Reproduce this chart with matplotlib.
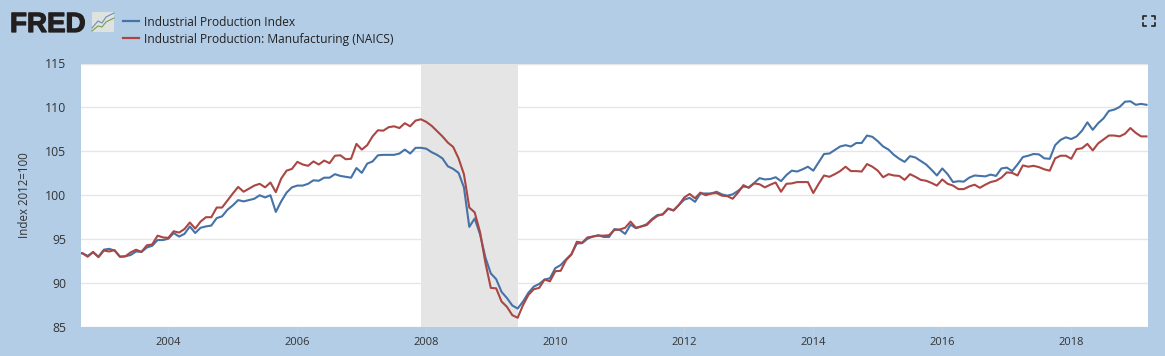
import numpy as np
from matplotlib import pyplot as plt
from matplotlib import patheffects
from matplotlib.lines import Line2D
from matplotlib.patches import FancyBboxPatch

plt.rcParams['font.family'] = ['Open Sans', 'DejaVu Sans']

# monthly, Aug 2002 to Mar 2019
start_year = 2002 + 7 / 12

indpro = [
    93.4, 93.4, 93.1, 93.5, 93.0, 93.8, 93.9, 93.7, 93.0, 93.05, 93.2, 93.6,
    93.55, 94.05, 94.25, 94.9, 94.9, 95.05, 95.7, 95.3, 95.6, 96.45, 95.7, 96.3,
    96.45, 96.55, 97.4, 97.6, 98.35, 98.85, 99.45, 99.3, 99.45, 99.6, 100.0, 99.75,
    100.0, 98.1, 99.3, 100.3, 100.9, 101.1, 101.1, 101.3, 101.7, 101.65, 102.0, 102.0,
    102.4, 102.2, 102.1, 102.0, 103.1, 102.55, 103.6, 103.85, 104.55, 104.6, 104.6, 104.6,
    104.75, 105.2, 104.75, 105.4, 105.4, 105.3, 104.9, 104.6, 104.2, 103.3, 103.0, 102.55,
    100.9, 96.4, 97.35, 95.55, 92.9, 91.1, 90.45, 89.0, 88.3, 87.45, 87.1, 87.9,
    88.9, 89.6, 89.9, 90.4, 90.55, 91.7, 92.05, 92.7, 93.3, 94.5, 94.55, 95.05,
    95.3, 95.45, 95.25, 95.25, 96.15, 96.05, 95.6, 96.65, 96.25, 96.45, 96.7, 97.3,
    97.75, 97.8, 98.45, 98.3, 98.9, 99.5, 99.7, 99.25, 100.2, 100.2, 100.2, 100.4,
    100.1, 99.95, 100.1, 100.5, 101.0, 100.9, 101.4, 101.95, 101.8, 101.85, 102.05, 101.6,
    102.3, 102.8, 102.7, 102.95, 103.25, 102.8, 103.75, 104.7, 104.75, 105.15, 105.55, 105.7,
    105.55, 105.95, 105.95, 106.8, 106.65, 106.15, 105.55, 105.2, 104.6, 104.15, 103.8, 104.45,
    104.3, 103.9, 103.5, 102.9, 102.25, 103.05, 102.4, 101.5, 101.6, 101.55, 102.0, 102.25,
    102.2, 102.15, 102.35, 102.2, 103.05, 103.15, 102.75, 103.5, 104.35, 104.5, 104.7, 104.65,
    104.2, 104.15, 105.7, 106.3, 106.6, 106.4, 106.7, 107.35, 108.3, 107.45, 108.2, 108.75,
    109.6, 109.75, 110.05, 110.65, 110.7, 110.3, 110.4, 110.3,
]

manufacturing = [
    93.4, 93.4, 93.0, 93.55, 92.95, 93.7, 93.6, 93.75, 93.0, 93.05, 93.5, 93.8,
    93.55, 94.3, 94.4, 95.4, 95.2, 95.15, 95.9, 95.75, 96.15, 96.9, 96.2, 97.0,
    97.5, 97.5, 98.6, 98.6, 99.4, 100.2, 100.95, 100.4, 100.75, 101.1, 101.3, 100.9,
    101.45, 100.35, 101.9, 102.8, 103.0, 103.8, 103.5, 103.35, 103.85, 103.5, 103.95, 103.65,
    104.5, 104.55, 104.1, 104.15, 105.85, 105.2, 105.7, 106.7, 107.4, 107.35, 107.75, 107.85,
    107.65, 108.2, 107.85, 108.5, 108.65, 108.35, 107.9, 107.3, 106.7, 106.0, 105.5, 104.2,
    102.4, 98.6, 98.05, 95.8, 92.3, 89.45, 89.4, 87.9, 87.3, 86.35, 86.05, 87.5,
    88.65, 89.3, 89.45, 90.4, 90.2, 91.35, 91.4, 92.6, 93.25, 94.7, 94.6, 95.2,
    95.3, 95.4, 95.4, 95.45, 96.05, 96.1, 96.3, 97.0, 96.3, 96.45, 96.6, 97.2,
    97.65, 97.85, 98.5, 98.25, 98.9, 99.75, 100.15, 99.65, 100.3, 100.0, 100.2, 100.25,
    99.95, 99.9, 99.6, 100.3, 101.15, 100.85, 101.35, 101.25, 100.9, 101.2, 101.45, 100.4,
    101.3, 101.35, 101.5, 101.5, 101.5, 100.25, 101.3, 102.25, 102.1, 102.4, 102.75, 103.25,
    102.75, 102.75, 102.7, 103.55, 103.25, 102.8, 102.05, 102.4, 102.25, 102.2, 101.75, 102.4,
    102.1, 101.75, 101.65, 101.4, 101.1, 101.8, 101.3, 101.1, 100.7, 100.7, 101.0, 101.2,
    100.85, 101.2, 101.5, 101.65, 102.0, 102.6, 102.55, 102.25, 103.4, 103.25, 103.35, 103.2,
    102.95, 102.8, 104.2, 104.5, 104.5, 104.15, 105.25, 105.35, 105.85, 105.1, 105.9, 106.35,
    106.8, 106.8, 106.7, 107.0, 107.65, 107.1, 106.7, 106.7,
]

recession = [2007 + 11 / 12, 2009 + 5 / 12]
year_ticks = [2004, 2006, 2008, 2010, 2012, 2014, 2016, 2018]
y_ticks = [85, 90, 95, 100, 105, 110, 115]
names = ['Industrial Production Index', 'Industrial Production: Manufacturing (NAICS)']

BG = '#b3cde6'
BLUE = '#4572a7'
RED = '#aa4643'
W, H = 1165, 356

months = start_year + np.arange(len(indpro)) / 12

fig = plt.figure(figsize=(W / 100, H / 100), dpi=100, facecolor=BG)
ax = fig.add_axes([81 / W, (H - 327) / H, 1067 / W, 263.5 / H])
ax.set_facecolor('white')
ax.axvspan(recession[0], recession[1], color='#e5e5e5', lw=0, zorder=1)
ax.plot(months, indpro, color=BLUE, lw=1.5, zorder=3)
ax.plot(months, manufacturing, color=RED, lw=1.5, zorder=4)

ax.set_xlim(2002.646, 2019.19)
ax.set_ylim(85, 115)
ax.set_xticks(year_ticks)
ax.set_yticks(y_ticks)
ax.grid(axis='y', color='#e6e6e6', lw=1, zorder=0)
ax.set_axisbelow(True)
for s in ax.spines.values():
    s.set_visible(False)
ax.tick_params(axis='x', length=6, width=0.8, color='#c0d0e0', labelsize=8, labelcolor='#333333', pad=1.5)
ax.tick_params(axis='y', length=0, labelsize=8.8, labelcolor='#333333', pad=10.5)
fig.text(25 / W, 1 - 195 / H, 'Index 2012=100', rotation=90, ha='center', va='center', fontsize=8.3, color='#333333')

# legend
for i, name in enumerate(names):
    y = 1 - (21 + 17 * i) / H
    fig.add_artist(Line2D([123 / W, 139 / W], [y, y], color=[BLUE, RED][i], lw=1.6))
    fig.text(144 / W, y - 1.5 / H, name, va='center', ha='left', fontsize=8.65, color='#222222')

# logo
fig.text(10 / W, 1 - 32 / H, 'FRED', family='Liberation Sans', weight='bold', fontsize=20,
         color='#231f20', va='baseline', ha='left',
         path_effects=[patheffects.withStroke(linewidth=0.9, foreground='#231f20')])
fig.add_artist(FancyBboxPatch((92 / W, 1 - 32 / H), 22 / W, 20 / H, boxstyle='round,pad=0,rounding_size=0.002',
                              transform=fig.transFigure, fc='#dfe3e0', ec='none'))
fig.add_artist(Line2D(np.array([92, 98, 102, 106, 114]) / W, 1 - np.array([28, 21, 23, 17, 13]) / H, color='#6b8fb5', lw=0.8))
fig.add_artist(Line2D(np.array([92, 98, 102, 106, 114]) / W, 1 - np.array([31, 26, 27, 22, 18]) / H, color='#7d9c4a', lw=0.8))

# fullscreen icon
for cx, dx in [(1143, 1), (1155, -1)]:
    for cy, dy in [(16, 1), (26, -1)]:
        fig.add_artist(Line2D([(cx + 3 * dx) / W, cx / W, cx / W],
                              [1 - cy / H, 1 - cy / H, 1 - (cy + 3 * dy) / H], color='#222222', lw=1.2))

fig.savefig('out.png', dpi=100, facecolor=BG)
